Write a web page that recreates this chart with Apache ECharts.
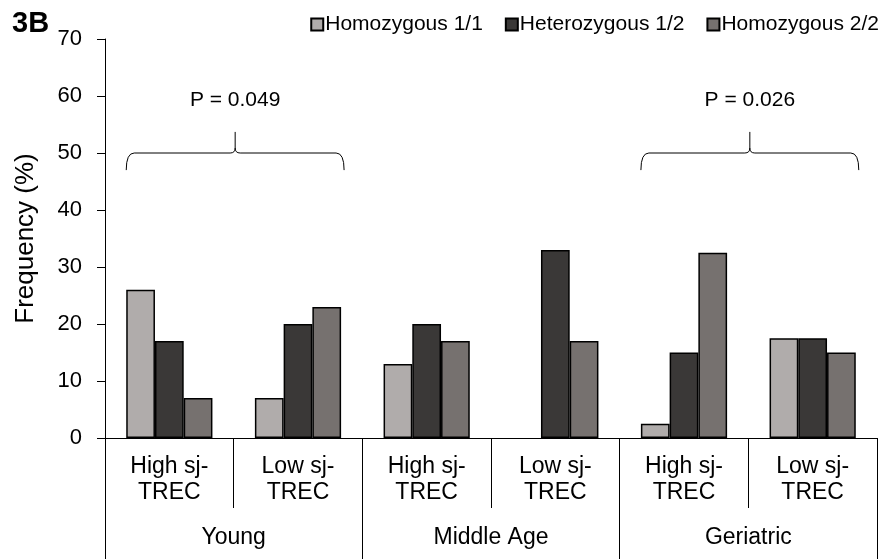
<!DOCTYPE html>
<html>
<head>
<meta charset="utf-8">
<script src="https://cdn.jsdelivr.net/npm/echarts@6/dist/echarts.min.js"></script>
<style>
html,body{margin:0;padding:0;background:#fff;}
#chart{width:886px;height:559px;}
</style>
</head>
<body>
<div id="chart"></div>
<script>
const categories = ['High sj-\nTREC', 'Low sj-\nTREC', 'High sj-\nTREC', 'Low sj-\nTREC', 'High sj-\nTREC', 'Low sj-\nTREC'];
const groups = ['Young', 'Middle Age', 'Geriatric'];
const seriesNames = ['Homozygous 1/1', 'Heterozygous 1/2', 'Homozygous 2/2'];
const homo11 = [26, 7, 13, 0, 2.5, 17.5];
const hetero12 = [17, 20, 20, 33, 15, 17.5];
const homo22 = [7, 23, 17, 17, 32.5, 15];
const yTicks = [0, 10, 20, 30, 40, 50, 60, 70];
const braceSpans = [[0, 1], [4, 5]];
const pLabels = ['P = 0.049', 'P = 0.026'];

const FONT = "'Liberation Sans', Arial, sans-serif";
const colors = ['#b0acab', '#3a3837', '#76716f'];
const chart = echarts.init(document.getElementById('chart'), null, {renderer: 'canvas'});

function barSeries(name, data, color) {
  return {
    name: name, type: 'bar', xAxisIndex: 0, yAxisIndex: 0,
    data: data.map(v => v === 0 ? {value: v, itemStyle: {borderWidth: 0}} : v),
    barGap: '0%', barCategoryGap: '33%',
    itemStyle: {color: color, borderColor: '#000', borderWidth: 1.5},
    emphasis: {disabled: true}
  };
}

const braceSeries = {
  type: 'custom', xAxisIndex: 0, yAxisIndex: 0, silent: true, z: 5,
  data: braceSpans.map((s, i) => ({value: s, name: pLabels[i]})),
  renderItem: function (params, api) {
    const a = api.value(0), b = api.value(1);
    const catW = api.size([1, 0])[0];
    const half = catW * 0.335;
    const L = api.coord([a, 50])[0] - half;
    const R = api.coord([b, 50])[0] + half + 3;
    const C = (L + R) / 2;
    const y50 = api.coord([a, 50])[1];
    const yEnd = api.coord([a, 47])[1];
    const yTip = api.coord([a, 53.7])[1];
    const yText = api.coord([a, 59.2])[1];
    const path = [
      'M', L, yEnd,
      'Q', L, y50, L + 8, y50,
      'L', C - 5, y50,
      'Q', C, y50, C, y50 - 5,
      'L', C, yTip,
      'M', C, y50 - 5,
      'Q', C, y50, C + 5, y50,
      'L', R - 8, y50,
      'Q', R, y50, R, yEnd
    ].join(' ');
    return {
      type: 'group',
      children: [
        {type: 'path', shape: {pathData: path}, style: {stroke: '#000', lineWidth: 1, fill: null}},
        {type: 'text', style: {text: pLabels[params.dataIndex], x: C, y: yText, align: 'center', verticalAlign: 'middle', fontSize: 21, fontFamily: FONT, fill: '#000'}}
      ]
    };
  }
};

const option = {
  animation: false,
  backgroundColor: '#fff',
  textStyle: {fontFamily: FONT, color: '#000'},
  title: {text: '3B', left: 7, top: 4, textStyle: {fontSize: 29, fontWeight: 'bold', fontFamily: FONT, color: '#000'}},
  legend: {
    data: seriesNames, right: 2, top: 9, itemWidth: 12, itemHeight: 12, itemGap: 22,
    icon: 'rect', textStyle: {fontSize: 21, fontFamily: FONT, color: '#000', padding: [0, 0, 0, -3]}
  },
  grid: {left: 105, right: 9, top: 39, bottom: 121, containLabel: false},
  xAxis: [
    {
      type: 'category', data: categories, position: 'bottom',
      axisLine: {show: true, lineStyle: {color: '#000', width: 1}},
      axisTick: {show: true, interval: 0, length: 70, lineStyle: {color: '#000', width: 1}},
      axisLabel: {interval: 0, margin: 16, fontSize: 23, lineHeight: 26, color: '#000', fontFamily: FONT}
    },
    {
      type: 'category', data: groups, position: 'bottom',
      axisLine: {show: false},
      axisTick: {show: true, interval: 0, length: 121, lineStyle: {color: '#000', width: 1}},
      axisLabel: {interval: 0, margin: 88, fontSize: 23, color: '#000', fontFamily: FONT}
    }
  ],
  yAxis: {
    type: 'value', min: 0, max: 70, interval: 10,
    name: 'Frequency (%)', nameLocation: 'middle', nameGap: 66, nameRotate: 90,
    nameTextStyle: {fontSize: 26, color: '#000', fontFamily: FONT},
    axisLine: {show: true, lineStyle: {color: '#000', width: 1}},
    axisTick: {show: true, inside: false, length: 8, lineStyle: {color: '#000'}},
    axisLabel: {margin: 23, fontSize: 22, color: '#000', fontFamily: FONT, formatter: v => yTicks.includes(v) ? String(v) : ''},
    splitLine: {show: false}
  },
  series: [
    barSeries(seriesNames[0], homo11, colors[0]),
    barSeries(seriesNames[1], hetero12, colors[1]),
    barSeries(seriesNames[2], homo22, colors[2]),
    braceSeries
  ]
};
chart.setOption(option);
</script>
</body>
</html>
